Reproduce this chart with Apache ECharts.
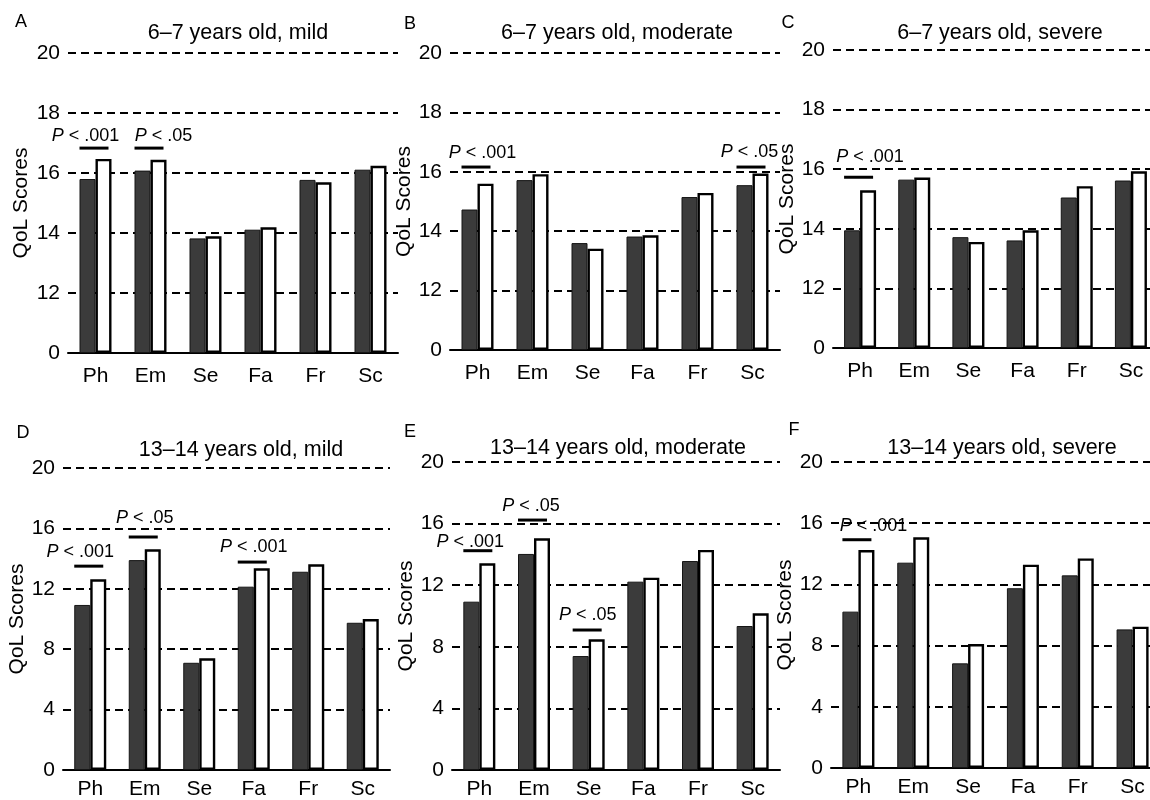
<!DOCTYPE html>
<html><head><meta charset="utf-8">
<script src="https://cdn.jsdelivr.net/npm/echarts@6/dist/echarts.min.js"></script>
<style>html,body{margin:0;padding:0;background:#fff}#c{width:1150px;height:800px}</style>
</head><body><div id="c"></div>
<script>
// ---------- data ----------
const categories = ['Ph', 'Em', 'Se', 'Fa', 'Fr', 'Sc'];
const panelLetters = ['A', 'B', 'C', 'D', 'E', 'F'];
const panelTitles = [
  '6\u20137 years old, mild', '6\u20137 years old, moderate', '6\u20137 years old, severe',
  '13\u201314 years old, mild', '13\u201314 years old, moderate', '13\u201314 years old, severe'
];
const yAxisName = 'QoL Scores';
const topTickLabels = [0, 12, 14, 16, 18, 20];     // broken axis (0, then 12..20)
const bottomTickLabels = [0, 4, 8, 12, 16, 20];

const darkA  = [15.80, 16.08, 13.82, 14.11, 15.77, 16.11];
const whiteA = [16.47, 16.44, 13.89, 14.19, 15.69, 16.24];
const darkB  = [14.73, 15.72, 13.60, 13.82, 15.15, 15.55];
const whiteB = [15.60, 15.92, 13.41, 13.86, 15.29, 15.94];
const darkC  = [13.95, 15.65, 13.72, 13.61, 15.05, 15.62];
const whiteC = [15.29, 15.72, 13.56, 13.95, 15.43, 15.93];
const darkD  = [10.93, 13.90, 7.10, 12.14, 13.13, 9.75];
const whiteD = [12.63, 14.62, 7.40, 13.36, 13.62, 10.00];
const darkE  = [10.93, 14.03, 7.40, 12.23, 13.57, 9.35];
const whiteE = [13.42, 15.05, 8.49, 12.49, 14.29, 10.18];
const darkF  = [10.22, 13.42, 6.84, 11.75, 12.59, 9.06];
const whiteF = [14.25, 15.08, 8.10, 13.29, 13.70, 9.24];

// significance brackets: category, level of the bar (score units), p text
const sigA = [{cat: 'Ph', level: 16.83, p: '< .001'}, {cat: 'Em', level: 16.83, p: '< .05'}];
const sigB = [{cat: 'Ph', level: 16.16, p: '< .001'}, {cat: 'Sc', level: 16.16, p: '< .05'}];
const sigC = [{cat: 'Ph', level: 15.73, p: '< .001'}];
const sigD = [{cat: 'Ph', level: 13.50, p: '< .001'}, {cat: 'Em', level: 15.43, p: '< .05'}, {cat: 'Fa', level: 13.77, p: '< .001'}];
const sigE = [{cat: 'Ph', level: 14.24, p: '< .001'}, {cat: 'Em', level: 16.23, p: '< .05'}, {cat: 'Se', level: 9.09, p: '< .05'}];
const sigF = [{cat: 'Ph', level: 14.92, p: '< .001'}];

// ---------- layout / style (kept apart from data) ----------
const FONT = "'Liberation Sans', Arial, Helvetica, sans-serif";
const grids = [
  {left: 68,  top: 53,  width: 330, height: 300, nameGap: 36, labelMargin: 13},
  {left: 450, top: 53,  width: 330, height: 297, nameGap: 30, labelMargin: 13},
  {left: 833, top: 50,  width: 325, height: 298, nameGap: 31, labelMargin: 13},
  {left: 63,  top: 468, width: 327, height: 302, nameGap: 34, labelMargin: 9},
  {left: 452, top: 462, width: 328, height: 308, nameGap: 32, labelMargin: 9},
  {left: 831, top: 462, width: 329, height: 306, nameGap: 29, labelMargin: 9}
];
const titlePos  = [[238, 33], [617, 33], [1000, 33], [241, 450], [618, 448], [1002, 448]];
const letterPos = [[21, 22], [410, 24], [788, 23], [23, 433], [410, 432], [794, 430]];
// per-annotation text nudges [dx, gap above line]
const sigTextOffsets = [
  [[-10, 12], [13, 12]],
  [[5, 14], [-3, 15]],
  [[10, 20]],
  [[-10, 14], [0, 19], [0, 15]],
  [[-9, 9], [-3, 14], [-1, 15]],
  [[15, 14]]
];

const panels = [
  {dark: darkA, white: whiteA, sig: sigA, top: true},
  {dark: darkB, white: whiteB, sig: sigB, top: true},
  {dark: darkC, white: whiteC, sig: sigC, top: true},
  {dark: darkD, white: whiteD, sig: sigD, top: false},
  {dark: darkE, white: whiteE, sig: sigE, top: false},
  {dark: darkF, white: whiteF, sig: sigF, top: false}
];

// broken-axis mapping for the top row: 0 -> 0, 12..20 -> 2..10
function brk(v) { return v >= 12 ? v - 10 : v / 6; }
function ident(v) { return v; }

const option = {
  backgroundColor: '#fff',
  animation: false,
  textStyle: {fontFamily: FONT},
  grid: [], xAxis: [], yAxis: [], series: [], graphic: []
};

panels.forEach((p, i) => {
  const g = grids[i];
  const f = p.top ? brk : ident;
  option.grid.push({left: g.left, top: g.top, width: g.width, height: g.height,
    containLabel: false, outerBoundsMode: 'none'});
  option.xAxis.push({
    type: 'category', gridIndex: i, data: categories,
    axisLine: {lineStyle: {color: '#000', width: 2}},
    axisTick: {inside: true, length: 5, lineStyle: {color: '#000', width: 1.5}},
    axisLabel: {color: '#000', fontSize: 21, fontFamily: FONT, margin: g.labelMargin},
    splitLine: {show: false}
  });
  const yBase = {
    type: 'value', gridIndex: i,
    name: yAxisName, nameLocation: 'middle', nameGap: g.nameGap,
    nameTextStyle: {color: '#000', fontSize: 21, fontFamily: FONT},
    axisLine: {show: false}, axisTick: {show: false},
    splitLine: {show: true, lineStyle: {color: '#000', width: 2, type: [8, 5]}},
    axisLabel: {color: '#000', fontSize: 21, fontFamily: FONT, margin: 8}
  };
  if (p.top) {
    Object.assign(yBase, {min: 0, max: 10, interval: 2,
      axisLabel: Object.assign({}, yBase.axisLabel, {formatter: v => String(topTickLabels[Math.round(v / 2)])})});
  } else {
    Object.assign(yBase, {min: 0, max: 20, interval: 4,
      axisLabel: Object.assign({}, yBase.axisLabel, {formatter: v => String(bottomTickLabels[Math.round(v / 4)])})});
  }
  option.yAxis.push(yBase);

  option.series.push({
    type: 'bar', xAxisIndex: i, yAxisIndex: i, silent: true,
    data: p.dark.map(f), barWidth: 16, barGap: '0%',
    itemStyle: {color: '#3b3b3b', borderColor: '#151515', borderWidth: 1}, z: 3
  });
  option.series.push({
    type: 'bar', xAxisIndex: i, yAxisIndex: i, silent: true,
    data: p.white.map(f), barWidth: 16, barGap: '0%',
    itemStyle: {color: '#ffffff', borderColor: '#000', borderWidth: 2.4}, z: 3
  });
  const sig = p.sig;
  const offs = sigTextOffsets[i];
  option.series.push({
    type: 'custom', xAxisIndex: i, yAxisIndex: i, silent: true, z: 6,
    data: sig.map(s => [categories.indexOf(s.cat), f(s.level)]),
    renderItem: function (params, api) {
      const c = api.coord([api.value(0), api.value(1)]);
      const o = offs[params.dataIndex];
      return {
        type: 'group',
        children: [
          {type: 'line', shape: {x1: c[0] - 16, y1: c[1], x2: c[0] + 13, y2: c[1]},
           style: {stroke: '#000', lineWidth: 3}},
          {type: 'text', x: c[0] + o[0], y: c[1] - o[1],
           style: {text: '{i|P} ' + sig[params.dataIndex].p,
             rich: {i: {fontStyle: 'italic', fontSize: 18, fontFamily: FONT, fill: '#000'}},
             fontSize: 18, fontFamily: FONT, fill: '#000', align: 'center', verticalAlign: 'middle'}}
        ]
      };
    }
  });

  option.graphic.push({type: 'text', x: titlePos[i][0], y: titlePos[i][1], silent: true,
    style: {text: panelTitles[i], fontSize: 21.5, fontFamily: FONT, fill: '#000', align: 'center', verticalAlign: 'middle'}});
  option.graphic.push({type: 'text', x: letterPos[i][0], y: letterPos[i][1], silent: true,
    style: {text: panelLetters[i], fontSize: 18, fontFamily: FONT, fill: '#000', align: 'center', verticalAlign: 'middle'}});
});

const chart = echarts.init(document.getElementById('c'), null, {renderer: 'canvas'});
chart.setOption(option);
</script>
</body></html>
